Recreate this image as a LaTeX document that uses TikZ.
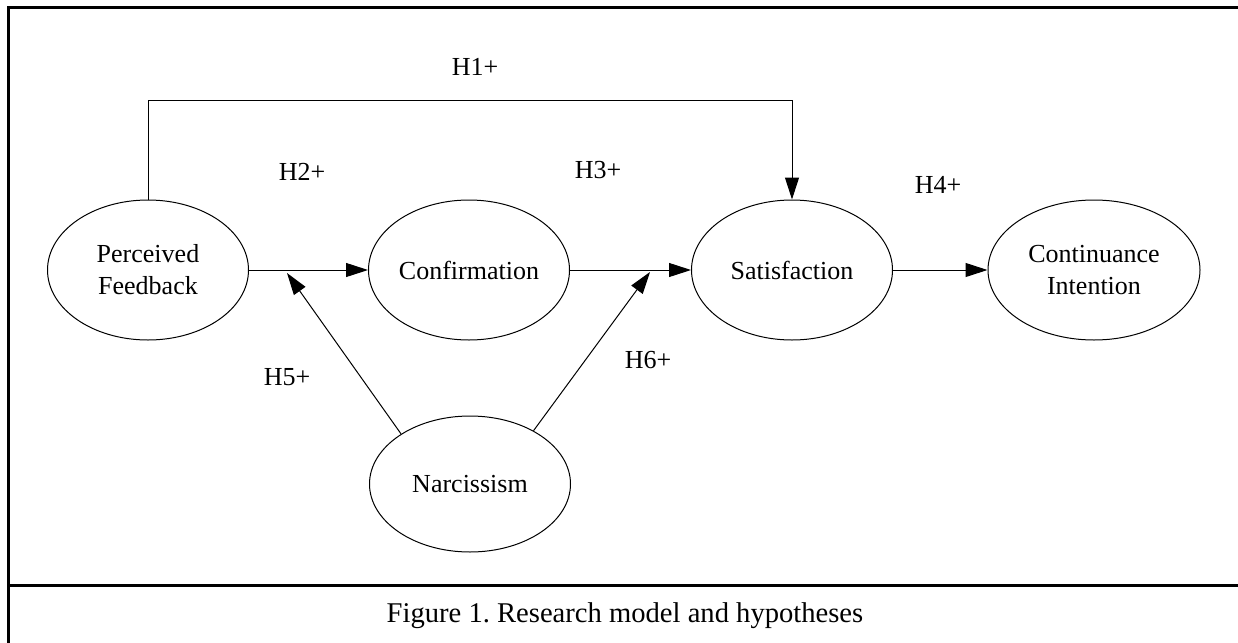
\documentclass[tikz,border=0pt]{standalone}
\usepackage{fontspec}
\setmainfont{Liberation Serif}
\usetikzlibrary{arrows.meta,shapes.geometric}
\frenchspacing

\begin{document}
\begin{tikzpicture}[x=0.5pt,y=-0.5pt,>={Triangle[length=11pt,width=7pt]},
  construct/.style={draw,ellipse,line width=0.5pt,minimum width=100.5pt,minimum height=70pt,inner sep=0pt,align=center,font=\fontsize{13}{16}\selectfont},
  hyp/.style={font=\fontsize{13}{16}\selectfont},
  path/.style={->,line width=0.5pt}]
\useasboundingbox (0,0) rectangle (1238,643);

\node[construct] (pf) at (148,270) {Perceived\\Feedback};
\node[construct] (conf) at (469,270) {Confirmation};
\node[construct] (sat) at (792,270) {Satisfaction};
\node[construct,minimum width=106pt] (ci) at (1094,270) {Continuance\\Intention};
\node[construct,minimum height=68pt] (nar) at (470,484) {Narcissism};

\coordinate (H1y) at (0,100);
\coordinate (M5) at (287,273);
\coordinate (M6) at (650,272);

\draw[path] (pf.north) -- (pf.north |- H1y) -| (sat.north);
\draw[path] (pf.east) -- (conf.west);
\draw[path] (conf.east) -- (sat.west);
\draw[path] (sat.east) -- (ci.west);
\draw[path] (nar.144) -- (M5);
\draw[path] (nar.40) -- (M6);

\node[hyp] (h1) at (475,67) {H1+};
\node[hyp] (h2) at (302,172) {H2+};
\node[hyp] (h3) at (598,170) {H3+};
\node[hyp] (h4) at (938,185) {H4+};
\node[hyp] (h5) at (287,377) {H5+};
\node[hyp] (h6) at (648,360) {H6+};

% frame and caption
\draw[line width=1.5pt] (8.5,643) -- (8.5,7) -- (1238,7);
\draw[line width=1.5pt] (8.5,585) -- (1238,585);
\node[font=\fontsize{14.3}{17}\selectfont] (cap) at (625,616) {Figure 1. Research model and hypotheses};
\end{tikzpicture}
\end{document}
